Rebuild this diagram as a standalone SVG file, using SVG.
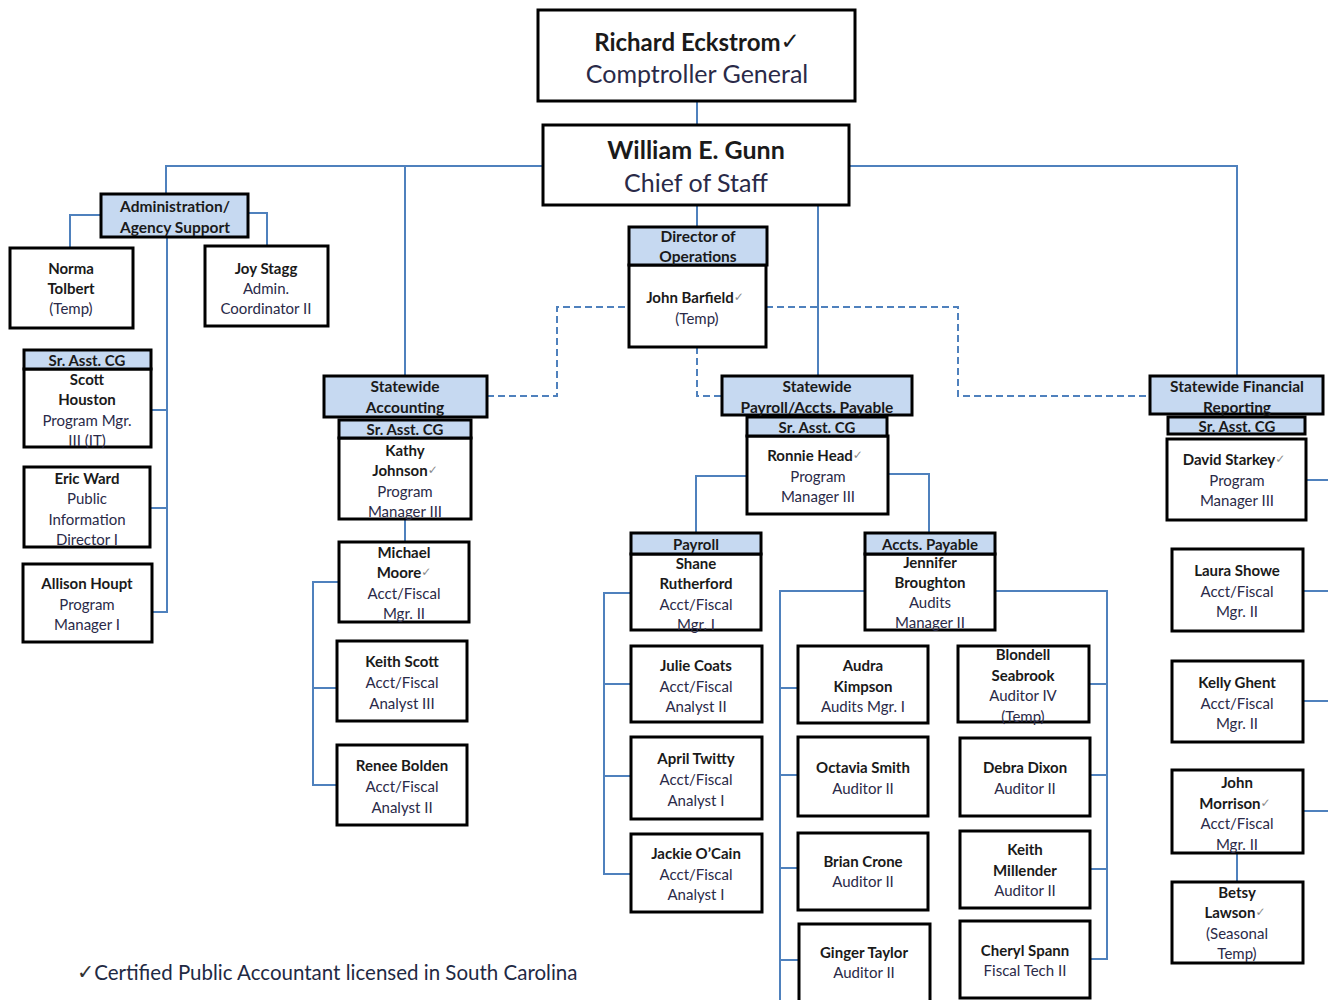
<svg xmlns="http://www.w3.org/2000/svg" width="1328" height="1000" viewBox="0 0 1328 1000">
<style>
.box{fill:#fff;stroke:#000;stroke-width:3}
.hdr{fill:#c6d9f1;stroke:#000;stroke-width:3}
.t{font-family:Lato,"Liberation Sans",sans-serif;font-size:15px;text-anchor:middle;dominant-baseline:central;fill:#2a2a48}
.b{font-weight:bold;fill:#1a1a1a}
.h{font-size:15.5px}
.big{font-size:25px}
.ck{fill:#8a8a8a;font-weight:normal;font-family:"DejaVu Sans",sans-serif;font-size:12px}
.ln{stroke:#4f81bd;stroke-width:2;fill:none}
.dash{stroke-dasharray:7 4}
</style>
<rect width="1328" height="1000" fill="#fff"/>
<g id="connectors">
<path class="ln" d="M697,101V125"/>
<path class="ln" d="M543,166H166V194"/>
<path class="ln" d="M405,166V376"/>
<path class="ln" d="M849,166H1237V376"/>
<path class="ln" d="M697,205V227"/>
<path class="ln" d="M818,205V376"/>
<path class="ln" d="M101,215H70V248"/>
<path class="ln" d="M248,213H267V246"/>
<path class="ln" d="M167,237V612H152M150,410H167M150,508H167"/>
<path class="ln dash" d="M487,396H557V307H629"/>
<path class="ln dash" d="M766,307H958V396H1150"/>
<path class="ln dash" d="M697,347V396H722"/>
<path class="ln" d="M405,519V542"/>
<path class="ln" d="M339,582H313V785H337M313,688H337"/>
<path class="ln" d="M747,476H696V533"/>
<path class="ln" d="M888,474H929V533"/>
<path class="ln" d="M631,593H604V874H631M604,684H631M604,776H631"/>
<path class="ln" d="M865,591H780V1000M780,688H798M780,775H798M780,868H798M780,960H799"/>
<path class="ln" d="M995,591H1107V959H1090M1089,684H1107M1090,775H1107M1090,869H1107"/>
<path class="ln" d="M1306,480H1328M1303,591H1328M1303,701H1328M1303,811H1328"/>
<path class="ln" d="M1237,853V882"/>
</g>
<g id="eckstrom">
<rect class="box" x="538" y="10" width="317" height="91"/>
<text class="t b" style="font-size:24px" x="697" y="41">Richard Eckstrom<tspan style="font-family:'DejaVu Sans';font-size:23px;fill:#1a1a1a">✓</tspan></text>
<text class="t big" x="697" y="73">Comptroller General</text>
</g>
<g id="gunn">
<rect class="box" x="543" y="125" width="306" height="80"/>
<text class="t b big" x="696" y="149">William E. Gunn</text>
<text class="t big" x="696" y="182">Chief of Staff</text>
</g>
<g id="admin">
<rect class="hdr" x="101" y="194" width="147" height="43"/>
<text class="t b h" x="175" y="206">Administration/</text>
<text class="t b h" x="175" y="227">Agency Support</text>
</g>
<g id="norma">
<rect class="box" x="10" y="248" width="123" height="80"/>
<text class="t b" x="71" y="268">Norma</text>
<text class="t b" x="71" y="288">Tolbert</text>
<text class="t" x="71" y="308">(Temp)</text>
</g>
<g id="joy">
<rect class="box" x="205" y="246" width="123" height="80"/>
<text class="t b" x="266" y="268">Joy Stagg</text>
<text class="t" x="266" y="288">Admin.</text>
<text class="t" x="266" y="308">Coordinator II</text>
</g>
<g id="scott">
<rect class="box" x="24" y="369" width="127" height="78"/>
<text class="t b" x="87" y="379">Scott</text>
<text class="t b" x="87" y="399">Houston</text>
<text class="t" x="87" y="420">Program Mgr.</text>
<text class="t" x="87" y="440">III (IT)</text>
<rect class="hdr" x="24" y="350" width="127" height="19"/>
<text class="t b" x="87" y="360">Sr. Asst. CG</text>
</g>
<g id="eric">
<rect class="box" x="24" y="467" width="126" height="80"/>
<text class="t b" x="87" y="478">Eric Ward</text>
<text class="t" x="87" y="498">Public</text>
<text class="t" x="87" y="519">Information</text>
<text class="t" x="87" y="539">Director I</text>
</g>
<g id="allison">
<rect class="box" x="23" y="564" width="129" height="78"/>
<text class="t b" x="87" y="583">Allison Houpt</text>
<text class="t" x="87" y="604">Program</text>
<text class="t" x="87" y="624">Manager I</text>
</g>
<g id="accounting">
<rect class="box" x="339" y="438" width="132" height="81"/>
<text class="t b" x="405" y="450">Kathy</text>
<text class="t b" x="405" y="470">Johnson<tspan class="ck">✓</tspan></text>
<text class="t" x="405" y="491">Program</text>
<text class="t" x="405" y="511">Manager III</text>
<rect class="hdr" x="339" y="420" width="132" height="18"/>
<text class="t b" x="405" y="429">Sr. Asst. CG</text>
<rect class="hdr" x="324" y="376" width="163" height="41"/>
<text class="t b h" x="405" y="386">Statewide</text>
<text class="t b h" x="405" y="407">Accounting</text>
</g>
<g id="michael">
<rect class="box" x="339" y="542" width="130" height="80"/>
<text class="t b" x="404" y="552">Michael</text>
<text class="t b" x="404" y="572">Moore<tspan class="ck">✓</tspan></text>
<text class="t" x="404" y="593">Acct/Fiscal</text>
<text class="t" x="404" y="613">Mgr. II</text>
</g>
<g id="keithscott">
<rect class="box" x="337" y="641" width="130" height="80"/>
<text class="t b" x="402" y="661">Keith Scott</text>
<text class="t" x="402" y="682">Acct/Fiscal</text>
<text class="t" x="402" y="703">Analyst III</text>
</g>
<g id="renee">
<rect class="box" x="337" y="745" width="130" height="80"/>
<text class="t b" x="402" y="765">Renee Bolden</text>
<text class="t" x="402" y="786">Acct/Fiscal</text>
<text class="t" x="402" y="807">Analyst II</text>
</g>
<g id="operations">
<rect class="box" x="629" y="265" width="137" height="82"/>
<text class="t b" x="695" y="297">John Barfield<tspan class="ck">✓</tspan></text>
<text class="t" x="697" y="318">(Temp)</text>
<rect class="hdr" x="629" y="227" width="138" height="38"/>
<text class="t b h" x="698" y="236">Director of</text>
<text class="t b h" x="698" y="256">Operations</text>
</g>
<g id="payrollap">
<rect class="box" x="747" y="436" width="141" height="78"/>
<text class="t b" x="815" y="455">Ronnie Head<tspan class="ck">✓</tspan></text>
<text class="t" x="818" y="476">Program</text>
<text class="t" x="818" y="496">Manager III</text>
<rect class="hdr" x="747" y="417" width="140" height="19"/>
<text class="t b" x="817" y="427">Sr. Asst. CG</text>
<rect class="hdr" x="722" y="376" width="190" height="39"/>
<text class="t b h" x="817" y="386">Statewide</text>
<text class="t b h" x="817" y="407">Payroll/Accts. Payable</text>
</g>
<g id="payroll">
<rect class="box" x="631" y="554" width="130" height="76"/>
<text class="t b" x="696" y="563">Shane</text>
<text class="t b" x="696" y="583">Rutherford</text>
<text class="t" x="696" y="604">Acct/Fiscal</text>
<text class="t" x="696" y="624">Mgr. I</text>
<rect class="hdr" x="631" y="533" width="130" height="21"/>
<text class="t b" x="696" y="544">Payroll</text>
</g>
<g id="julie">
<rect class="box" x="631" y="646" width="131" height="76"/>
<text class="t b" x="696" y="665">Julie Coats</text>
<text class="t" x="696" y="686">Acct/Fiscal</text>
<text class="t" x="696" y="706">Analyst II</text>
</g>
<g id="april">
<rect class="box" x="631" y="737" width="131" height="82"/>
<text class="t b" x="696" y="758">April Twitty</text>
<text class="t" x="696" y="779">Acct/Fiscal</text>
<text class="t" x="696" y="800">Analyst I</text>
</g>
<g id="jackie">
<rect class="box" x="631" y="834" width="131" height="78"/>
<text class="t b" x="696" y="853">Jackie O’Cain</text>
<text class="t" x="696" y="874">Acct/Fiscal</text>
<text class="t" x="696" y="894">Analyst I</text>
</g>
<g id="acctspayable">
<rect class="box" x="865" y="554" width="130" height="76"/>
<text class="t b" x="930" y="562">Jennifer</text>
<text class="t b" x="930" y="582">Broughton</text>
<text class="t" x="930" y="602">Audits</text>
<text class="t" x="930" y="622">Manager II</text>
<rect class="hdr" x="865" y="533" width="130" height="21"/>
<text class="t b" x="930" y="544">Accts. Payable</text>
</g>
<g id="audra">
<rect class="box" x="798" y="646" width="130" height="77"/>
<text class="t b" x="863" y="665">Audra</text>
<text class="t b" x="863" y="686">Kimpson</text>
<text class="t" x="863" y="706">Audits Mgr. I</text>
</g>
<g id="blondell">
<rect class="box" x="958" y="646" width="131" height="76"/>
<text class="t b" x="1023" y="654">Blondell</text>
<text class="t b" x="1023" y="675">Seabrook</text>
<text class="t" x="1023" y="695">Auditor IV</text>
<text class="t" x="1023" y="716">(Temp)</text>
</g>
<g id="octavia">
<rect class="box" x="798" y="737" width="130" height="79"/>
<text class="t b" x="863" y="767">Octavia Smith</text>
<text class="t" x="863" y="788">Auditor II</text>
</g>
<g id="debra">
<rect class="box" x="960" y="738" width="130" height="78"/>
<text class="t b" x="1025" y="767">Debra Dixon</text>
<text class="t" x="1025" y="788">Auditor II</text>
</g>
<g id="brian">
<rect class="box" x="798" y="833" width="130" height="77"/>
<text class="t b" x="863" y="861">Brian Crone</text>
<text class="t" x="863" y="881">Auditor II</text>
</g>
<g id="keithmillender">
<rect class="box" x="960" y="831" width="130" height="77"/>
<text class="t b" x="1025" y="849">Keith</text>
<text class="t b" x="1025" y="870">Millender</text>
<text class="t" x="1025" y="890">Auditor II</text>
</g>
<g id="ginger">
<rect class="box" x="799" y="924" width="131" height="80"/>
<text class="t b" x="864" y="952">Ginger Taylor</text>
<text class="t" x="864" y="972">Auditor II</text>
</g>
<g id="cheryl">
<rect class="box" x="960" y="921" width="130" height="77"/>
<text class="t b" x="1025" y="950">Cheryl Spann</text>
<text class="t" x="1025" y="970">Fiscal Tech II</text>
</g>
<g id="financialreporting">
<rect class="hdr" x="1168" y="417" width="137" height="17"/>
<text class="t b" x="1237" y="426">Sr. Asst. CG</text>
<rect class="hdr" x="1150" y="376" width="173" height="38"/>
<text class="t b h" x="1237" y="386">Statewide Financial</text>
<text class="t b h" x="1237" y="407">Reporting</text>
</g>
<g id="david">
<rect class="box" x="1167" y="439" width="139" height="81"/>
<text class="t b" x="1234" y="459">David Starkey<tspan class="ck">✓</tspan></text>
<text class="t" x="1237" y="480">Program</text>
<text class="t" x="1237" y="500">Manager III</text>
</g>
<g id="laura">
<rect class="box" x="1172" y="549" width="131" height="82"/>
<text class="t b" x="1237" y="570">Laura Showe</text>
<text class="t" x="1237" y="591">Acct/Fiscal</text>
<text class="t" x="1237" y="611">Mgr. II</text>
</g>
<g id="kelly">
<rect class="box" x="1172" y="661" width="131" height="81"/>
<text class="t b" x="1237" y="682">Kelly Ghent</text>
<text class="t" x="1237" y="703">Acct/Fiscal</text>
<text class="t" x="1237" y="723">Mgr. II</text>
</g>
<g id="morrison">
<rect class="box" x="1172" y="770" width="131" height="83"/>
<text class="t b" x="1237" y="782">John</text>
<text class="t b" x="1235" y="803">Morrison<tspan class="ck">✓</tspan></text>
<text class="t" x="1237" y="823">Acct/Fiscal</text>
<text class="t" x="1237" y="844">Mgr. II</text>
</g>
<g id="betsy">
<rect class="box" x="1172" y="882" width="131" height="81"/>
<text class="t b" x="1237" y="892">Betsy</text>
<text class="t b" x="1235" y="912">Lawson<tspan class="ck">✓</tspan></text>
<text class="t" x="1237" y="933">(Seasonal</text>
<text class="t" x="1237" y="953">Temp)</text>
</g>
<g id="legend">
<text x="77" y="972" style="font-family:Lato,'Liberation Sans',sans-serif;font-size:20.5px;dominant-baseline:central;fill:#1f2a44"><tspan style="font-family:'DejaVu Sans',sans-serif;fill:#333">✓</tspan>Certified Public Accountant licensed in South Carolina</text>
</g>
</svg>
